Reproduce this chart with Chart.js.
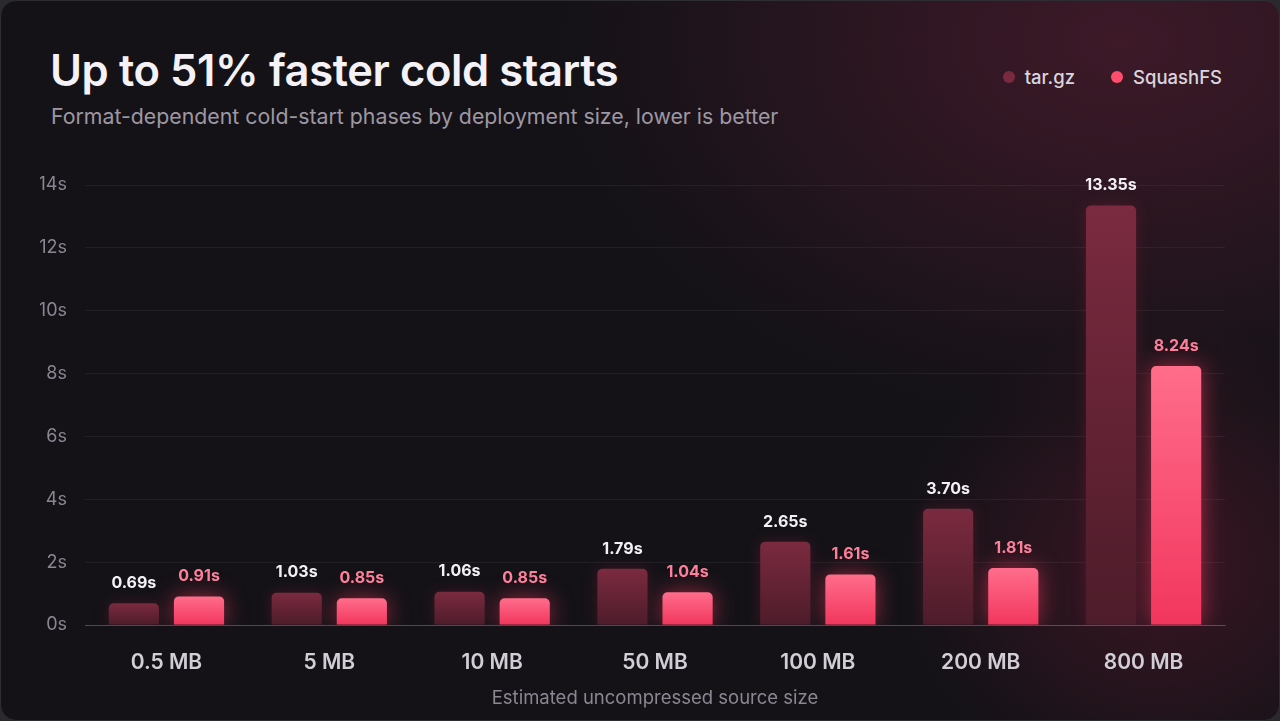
<!DOCTYPE html>
<html>
<head>
<meta charset="utf-8">
<script src="https://cdn.jsdelivr.net/npm/chart.js@4.4.1/dist/chart.umd.min.js"></script>
<style>
  html, body { margin: 0; padding: 0; background: #2a292e; }
  body { width: 1280px; height: 721px; overflow: hidden; font-family: Inter, "Noto Sans", sans-serif; }
  .card {
    position: absolute; left: 0; top: 0; width: 1278px; height: 719px;
    border: 1px solid #2f2d34; border-radius: 16px; overflow: hidden;
    background:
      radial-gradient(ellipse 560px 380px at 1120px 40px, rgba(90, 30, 52, 0.6), rgba(90, 30, 52, 0) 100%),
      radial-gradient(ellipse 260px 240px at 1160px 560px, rgba(120, 28, 56, 0.38), rgba(120, 28, 56, 0) 100%),
      #141217;
  }
  h1 { position: absolute; left: 49px; top: 43px; margin: 0; font-size: 43.5px; font-weight: 600; color: #f4f2f6; letter-spacing: -0.4px; }
  .sub { position: absolute; left: 50px; top: 102px; margin: 0; font-size: 21.3px; color: #9d98a3; }
  .legend { position: absolute; right: 57px; top: 65px; display: flex; gap: 36px; font-size: 18.5px; font-weight: 500; color: #d9d5dd; }
  .legend span { display: flex; align-items: center; }
  .legend i { width: 12px; height: 12px; border-radius: 50%; margin-right: 10px; display: inline-block; }
  canvas { position: absolute; left: 0; top: 0; }
</style>
</head>
<body>
<div class="card">
  <h1>Up to 51% faster cold starts</h1>
  <p class="sub">Format-dependent cold-start phases by deployment size, lower is better</p>
  <div class="legend">
    <span><i style="background:#7a2a3e"></i>tar.gz</span>
    <span><i style="background:#ff4d6d"></i>SquashFS</span>
  </div>
  <canvas id="chart" width="1280" height="721"></canvas>
</div>
<script>
const sizes = ["0.5 MB", "5 MB", "10 MB", "50 MB", "100 MB", "200 MB", "800 MB"];
const tarGz = [0.69, 1.03, 1.06, 1.79, 2.65, 3.70, 13.35];
const squashFs = [0.91, 0.85, 0.85, 1.04, 1.61, 1.81, 8.24];
const yTicks = [0, 2, 4, 6, 8, 10, 12, 14];

// gradient per bar, from its top down to the base line
const barGradient = (top, bottom) => (ctx) => {
    const chart = ctx.chart;
    const y = chart.scales.y;
    if (!chart.chartArea || !y || ctx.raw === undefined) return bottom;
    const yTop = y.getPixelForValue(ctx.raw);
    const yBase = y.getPixelForValue(0);
    const g = chart.ctx.createLinearGradient(0, yTop, 0, yBase);
    g.addColorStop(0, top);
    g.addColorStop(1, bottom);
    return g;
};

const glowPlugin = {
    id: 'glow',
    beforeDatasetDraw(chart, args) {
        const c = chart.ctx;
        c.save();
        if (args.index === 1) {
            c.shadowColor = 'rgba(255, 60, 100, 0.55)';
            c.shadowBlur = 22;
        } else {
            c.shadowColor = 'rgba(120, 30, 55, 0.4)';
            c.shadowBlur = 14;
        }
    },
    afterDatasetDraw(chart) {
        chart.ctx.restore();
    }
};

const valueLabels = {
    id: 'valueLabels',
    afterDatasetsDraw(chart) {
        const c = chart.ctx;
        c.save();
        c.font = '700 16px Inter, "Noto Sans", sans-serif';
        c.textAlign = 'center';
        c.textBaseline = 'middle';
        chart.data.datasets.forEach((ds, i) => {
            const meta = chart.getDatasetMeta(i);
            c.fillStyle = i === 0 ? '#f3f0f5' : '#ff7f9a';
            meta.data.forEach((bar, j) => {
                c.fillText(ds.data[j].toFixed(2) + 's', bar.x, bar.y - 20);
            });
        });
        c.restore();
    }
};

new Chart(document.getElementById('chart'), {
    type: 'bar',
    data: {
        labels: sizes,
        datasets: [{
            label: 'tar.gz',
            data: tarGz,
            backgroundColor: barGradient('#7b2a3f', '#4d1c2a'),
            borderRadius: 5,
            borderSkipped: 'bottom',
            categoryPercentage: 0.8,
            barPercentage: 0.77
        }, {
            label: 'SquashFS',
            data: squashFs,
            backgroundColor: barGradient('#ff6d8b', '#f2365d'),
            borderRadius: 5,
            borderSkipped: 'bottom',
            categoryPercentage: 0.8,
            barPercentage: 0.77
        }]
    },
    options: {
        responsive: false,
        animation: false,
        layout: { padding: { left: 39, right: 56, top: 184, bottom: 0 } },
        plugins: {
            legend: { display: false },
            tooltip: { enabled: false }
        },
        scales: {
            x: {
                grid: { display: false },
                border: { display: true, color: 'rgba(255,255,255,0.13)' },
                ticks: {
                    color: '#d2ced6',
                    font: { family: 'Inter', size: 21, weight: '600' },
                    padding: 17
                },
                title: {
                    display: true,
                    text: 'Estimated uncompressed source size',
                    color: '#8b8691',
                    font: { family: 'Inter', size: 18.5 },
                    padding: { top: 0, bottom: 12 }
                },
                afterFit: (scale) => { scale.height = 97; }
            },
            y: {
                min: 0,
                max: 14,
                border: { display: false },
                grid: {
                    drawTicks: false,
                    color: (ctx) => ctx.tick && ctx.tick.value === 0 ? 'rgba(255,255,255,0.13)' : 'rgba(255,255,255,0.055)'
                },
                afterBuildTicks: (scale) => { scale.ticks = yTicks.map(v => ({ value: v })); },
                ticks: {
                    color: '#8b8691',
                    font: { family: 'Inter', size: 18 },
                    padding: 18,
                    callback: (v) => v + 's'
                },
                afterFit: (scale) => { scale.width = 45; }
            }
        }
    },
    plugins: [glowPlugin, valueLabels]
});
</script>
</body>
</html>
